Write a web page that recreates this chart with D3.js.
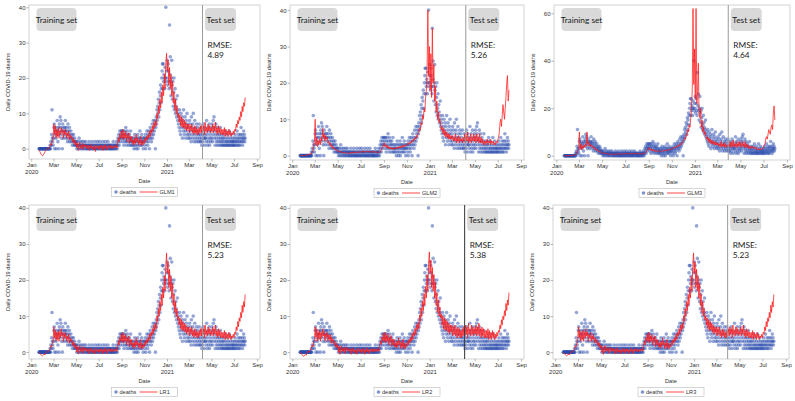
<!DOCTYPE html>
<html><head><meta charset="utf-8">
<script src="https://cdn.jsdelivr.net/npm/d3@7/dist/d3.min.js"></script>
<style>body{margin:0;background:#fff}svg text{font-family:"Liberation Sans",Arial,sans-serif}</style>
</head><body><svg id="chart" width="795" height="401"></svg>
<script>
// ---------------- DATA ----------------
const modelNames = ["GLM1","GLM2","GLM3","LR1","LR2","LR3"];
const rmseValues = ["4.89","5.26","4.64","5.23","5.38","5.23"];
const splitDates = ["2021-04-07","2021-04-07","2021-03-30","2021-04-07","2021-04-04","2021-03-31"];
const xTickDates = ["2020-01-01","2020-03-01","2020-05-01","2020-07-01","2020-09-01","2020-11-01","2021-01-01","2021-03-01","2021-05-01","2021-07-01","2021-09-01"];
const xTickMonths = ["Jan","Mar","May","Jul","Sep","Nov","Jan","Mar","May","Jul","Sep"];
const xTickYears = ["2020","","","","","","2021","","","","",""];
const yTicks40 = [0,10,20,30,40];
const yTicks60 = [0,20,40,60];

// daily deaths, one array per month, Jan 22 2020 .. Jul 31 2021
const deaths = [
 [0,0,0,0,0,0,0,0,0,0],
 [0,0,0,0,0,0,0,0,0,0,0,0,0,0,0,0,0,0,0,0,1,0,2,1,4,11,3,2,1],
 [3,6,7,0,4,5,6,3,0,5,8,4,2,6,5,0,7,6,9,4,8,5,3,6,0,7,5,4,3,6,5],
 [6,8,5,4,3,6,5,2,7,4,3,5,6,2,4,3,5,2,3,4,1,3,2,4,2,1,3,2,1,2],
 [1,2,0,1,1,2,0,1,3,1,0,2,1,1,0,1,2,0,1,1,0,2,1,0,1,1,2,0,1,0,1],
 [0,1,1,0,2,1,0,0,1,1,0,1,2,0,1,0,0,1,1,0,2,0,1,0,1,0,1,2,0,1],
 [0,1,0,2,1,0,1,0,1,1,0,2,0,1,0,1,0,1,2,0,1,0,0,1,1,2,0,1,0,1,0],
 [1,0,1,0,1,0,0,1,2,0,1,0,1,0,1,1,0,2,1,0,1,3,2,4,1,3,5,2,4,3,5],
 [3,5,4,2,5,3,1,4,5,2,3,6,4,2,1,5,3,4,2,3,1,4,2,3,5,1,2,3,1,2],
 [2,3,1,0,2,4,3,1,2,0,3,1,2,4,0,3,2,1,3,5,2,1,3,2,4,1,2,3,0,2,3],
 [2,3,1,4,0,3,2,5,3,1,4,2,5,3,0,4,6,3,5,2,4,7,3,5,8,4,6,5,7,8],
 [0,6,9,7,11,8,12,10,14,9,13,16,11,15,18,13,17,20,22,24,17,24,19,21,20,17,23,20,40,19,22],
 [20,25,18,24,22,19,17,35,21,26,19,15,20,25,18,14,19,12,16,20,11,13,17,10,14,12,9,11,15,8,10],
 [7,9,6,11,5,8,4,10,7,6,9,3,8,5,11,6,4,7,9,5,3,8,6,10,4,7,5,3],
 [6,4,8,3,7,5,2,9,4,6,3,7,10,5,2,4,8,3,6,5,2,7,4,3,6,2,5,4,7,3,2],
 [4,2,6,3,1,5,4,2,7,3,6,1,4,3,3,5,2,8,4,1,6,3,2,5,7,1,4,3,2,6],
 [5,3,7,2,4,8,6,9,3,5,1,4,7,2,3,6,1,4,2,5,3,1,4,2,6,3,1,2,4,1,3],
 [2,1,3,4,1,2,5,1,3,2,1,4,2,1,3,1,2,5,1,2,3,1,4,2,1,2,3,1,2,1],
 [2,3,1,4,2,1,3,2,5,1,2,3,4,1,2,3,1,4,2,6,3,2,4,1,3,2,5,3,4,2,3]
];

// model fits, sampled every second day, one array per month
const glm1 = [
 [-0.3,-0.8,-1.2,-1.6,-1.9],
 [-2,-1.7,-1.3,-0.9,-0.5,-0.2,0,0.2,0,0.4,0.8,1.5,1,2.5,3],
 [7,4,6.5,3,5.5,3.5,6,3,5,4,6,4.5,5.5,3,5],
 [4,5.5,3,4.5,3.5,5,2.5,4,3,3.5,2,3,1.5,2.5,1],
 [2,0.3,1.5,-0.5,1,1.8,0,1,0.3,1.5,-0.3,1,0.5,1.2,0,1],
 [0.3,1,-0.5,0.8,0.2,1.2,-0.3,0.6,0,1,-0.8,0.5,0.2,1,0],
 [0.8,-0.3,1,0.2,0.9,-0.5,0.6,0,1.2,0.2,0.8,-0.4,0.5,1,0.2],
 [0.8,0.1,1,0.3,0.7,0,1,0.5,0.8,0.2,1.5,3,2,4,3,5],
 [3,5.5,2.5,4.5,3,5,2,4,3,4.5,1.5,3.5,2,3.5,1.5],
 [2.5,1,3,1.5,4,2,3,1,2.5,1.5,3.5,1,2.5,1,2],
 [1.5,3,2,3.5,2.5,4,3,5,3.5,5.5,4.5,6.5,5,7.5,6],
 [8,6.5,10,8.5,12,10,14,11.5,16,13,18,15,21,17,24,27],
 [22,25,18,23,17,21,15,19,13,16,11,14,10,12,9],
 [10,7.5,9.5,6.5,9,6,8.5,6,8,5.5,7.5,5,7,5.5],
 [7,4.5,6.5,5,7,4.5,6,4,6.5,4.5,6,4,5.5,4,6,4.5],
 [6.5,4.5,7,5,6.5,4,7.5,5,6,4.5,7,5,6.5,4.5,6],
 [5,7,4.5,6.5,5,7.5,4.5,6,4,6.5,4.5,6,4,5.5,4],
 [5.5,4,6,3.5,5.5,4,5,3.5,5.5,4,5,3.5,4.5,4,5],
 [4,5.5,5,7,6,8,7,9,8,10.5,9,12,10.5,13,12,14.5]
];
const glm2 = [
 [0,0,0,0,0],
 [0,0.1,0,0.2,0.1,0.3,0.2,0.4,0.3,0.6,0.5,1,1.5,2.5,4],
 [10,3,5,2.5,4,3,4.5,3,5,4,7.5,5,6,4,5.5],
 [4.5,5,3.5,4,3,3.5,2.5,3,2,2.5,1.8,2,1.5,1.7,1.3],
 [1.2,1.4,1,1.2,0.9,1.1,0.8,1,0.7,0.9,0.7,0.8,0.6,0.8,0.6,0.7],
 [0.7,0.9,0.6,1,0.7,1.1,0.8,1,0.7,0.9,0.8,1.1,0.8,1,0.9],
 [1,1.2,0.9,1.3,1,1.2,0.9,1.1,1,1.3,1,1.2,0.9,1.1,1],
 [1.1,0.9,1.2,1,1.1,0.8,1,0.9,1.1,0.8,1,1.2,1.5,2,2.5,3],
 [3.5,2.5,3,2.2,2.8,2,2.5,1.8,2.3,1.8,2.2,1.7,2.1,1.8,2.2],
 [1.8,2.2,1.9,2.4,2,2.5,2.1,2.6,2.2,2.8,2.3,2.9,2.5,3,2.7],
 [3,3.3,3,3.6,3.2,3.8,3.5,4.2,3.8,4.6,4.2,5,4.6,5.5,5.2],
 [6,6.5,7.5,7,9,8.5,11,10,13,12,16,18,24,40,22,30],
 [18,28,16,35,20,25,15,19,12,15,10,12,9,10,8],
 [7,8,6,7.5,5.5,7,5,6.5,5,6,4.5,6,4.5,5.5],
 [4.5,5.5,4,5,4,6,3.5,5,4,5.5,3.5,5,4,4.5,3.5,5],
 [4,6,3.5,5.5,4,6.5,3.5,5,4,6,3.5,5,4,6,4],
 [5.5,3.5,6,4,5,3.5,6,3.5,5,3.5,4.5,3,4,3,4],
 [3.5,4.5,3,4,3.5,4.5,3,4,3.5,4,3,3.5,3,4,3.5],
 [4,5,6,9,10,8,11,14,12,10,13,16,20,22,15,18]
];
const glm3 = [
 [0,0,0,0,0],
 [0,0,0.1,0,0.1,0.2,0.1,0.3,0.2,0.4,0.5,0.8,1.2,2,3],
 [10,3,5,2.5,4,3,4.5,3.5,5,4,10,5,6,4,5],
 [4,4.5,3.5,4,3,3.5,2.5,3,2.2,2.5,1.8,2,1.5,1.7,1.3],
 [1.2,1.3,1,1.1,0.9,1,0.8,0.9,0.7,0.8,0.6,0.8,0.6,0.7,0.5,0.7],
 [0.6,0.8,0.5,0.9,0.6,0.9,0.6,0.8,0.6,0.8,0.7,0.9,0.7,0.9,0.7],
 [0.8,1,0.7,1,0.8,1,0.7,0.9,0.8,1,0.8,1,0.8,0.9,0.8],
 [0.9,0.8,1,0.8,0.9,0.7,0.9,0.8,1,0.8,1,1.2,1.5,2,2.5,3],
 [3.5,2.5,3,2.2,2.8,2,2.5,1.8,2.3,1.8,2.2,1.7,2,1.7,2],
 [1.7,2,1.8,2.2,1.9,2.3,2,2.4,2.1,2.6,2.2,2.7,2.4,2.9,2.6],
 [2.9,3.2,3,3.5,3.2,3.8,3.5,4.2,3.8,4.6,4.2,5,4.6,5.5,5.2],
 [6,6.5,7.5,7,9,8.5,11,10,13,12,16,20,28,62,30,45],
 [24,62,22,27,39,18,16,20,12,15,10,12,9,10,8],
 [7,8,6,7.5,5.5,7,5,6.5,5,6,4.5,6,4.5,5.5],
 [4.5,5.5,4,5,4,6,3.5,5,4,5.5,3.5,5,4,4.5,3.5,5],
 [4,6,3.5,5.5,4,6.5,3.5,5,4,6,3.5,5,4,6,4],
 [5.5,3.5,6,4,5,3.5,6,3.5,5,3.5,4.5,3,4,3,4],
 [3.5,4,3,3.5,3,3.5,2.5,3,2.5,3,2.5,3,2.5,3,3],
 [3.5,4.5,5,7,8,7,9,11,10,9,12,13,11,18,21,15]
];
const lr1 = [
 [0,-0.2,-0.5,-0.8,-1],
 [-1,-0.8,-0.5,-0.8,-0.3,0,0.2,0,0.3,0.5,1,1.8,1.5,2.5,3],
 [7,4,6,3,5.5,3.5,6,3,5.5,4,6.5,4.5,5.5,3,5],
 [4,5.5,3,4.5,3.5,5,2.5,4,3,3.5,2,3,1.5,2.5,1],
 [2,0,1.5,-0.5,1,1.8,0,1,0.3,1.5,-0.3,1,0.5,1.2,0,1],
 [0.3,1,-0.5,0.8,0.2,1.2,-0.3,0.6,0,1,-0.5,0.5,0.2,1,0],
 [0.8,-0.3,1,0.2,0.9,-0.5,0.6,0,1.2,0.2,0.8,-0.4,0.5,1,0.2],
 [0.8,0.1,1,0.3,0.7,0,1,0.5,0.8,0.2,1.5,3,2,4,3,5],
 [3,5.5,2.5,4.5,3,5,2,4,3,4.5,1.5,3.5,2,3.5,1.5],
 [2.5,1,3,1.5,4,2,3,1,2.5,1.5,3.5,1,2.5,1,2],
 [1.5,3,2,3.5,2.5,4,3,5,3.5,5.5,4.5,6.5,5,7.5,6],
 [8,6.5,10,8.5,12,10,14,11.5,16,13,18,15,21,17,24,27.5],
 [22,25,18,23,17,21,15,19,13,16,11,14,10,12,9],
 [10,7.5,9.5,6.5,9,6,8.5,6,8,5.5,7.5,5,7,5.5],
 [7,4.5,6.5,5,7,4.5,6,4,6.5,4.5,6,4,5.5,4,6,4.5],
 [6.5,4.5,7,5,6.5,4,7.5,5,6,4.5,7,5,6.5,4.5,6],
 [5,7,4.5,6.5,5,7.5,4.5,6,4,6.5,4.5,6,4,5.5,4],
 [5.5,4,6,3.5,5.5,4,5,3.5,5.5,4,5,3.5,4.5,4,5],
 [4,5.5,5,7,6,8.5,7,9.5,8.5,11,9.5,13,11,14,12.5,16]
];
const lr2 = [
 [0,-0.3,-0.6,-0.9,-1.1],
 [-1.1,-0.8,-0.6,-0.9,-0.4,0,0.3,0,0.4,0.6,1.2,2,1.5,2.8,3.2],
 [7,4.2,6.5,3,5.5,3.5,6.2,3,5.5,4,6.5,4.5,5.8,3.2,5],
 [4.2,5.5,3,4.8,3.5,5,2.5,4.2,3,3.5,2.2,3,1.5,2.5,1.2],
 [2,0,1.6,-0.6,1,1.8,0,1.1,0.3,1.5,-0.4,1,0.5,1.3,0,1],
 [0.4,1,-0.6,0.8,0.2,1.2,-0.4,0.6,0,1.1,-0.6,0.5,0.2,1.1,0],
 [0.8,-0.4,1.1,0.2,0.9,-0.6,0.6,0,1.2,0.1,0.8,-0.5,0.5,1,0.1],
 [0.8,0,1,0.3,0.8,0,1,0.4,0.8,0.2,1.6,3,2.2,4.2,3,5.2],
 [3,5.5,2.6,4.6,3,5.2,2,4,3,4.6,1.6,3.6,2,3.6,1.5],
 [2.5,1,3.1,1.5,4,2,3.1,1,2.6,1.5,3.6,1,2.6,1,2.1],
 [1.6,3,2,3.6,2.5,4.1,3,5.1,3.5,5.6,4.5,6.6,5,7.6,6.2],
 [8.2,6.5,10.2,8.5,12.2,10,14.2,11.5,16.2,13,18.2,15,21.5,17,24.5,27.8],
 [22,25.5,18,23.5,17,21.5,15,19.5,13,16.5,11,14.5,10,12.5,9.5],
 [10.5,7.5,10,6.5,9.5,6,9,6,8.5,5.5,8,5,7.5,5.5],
 [7.5,4.5,7,5,7.5,4.5,6.5,4,7,4.5,6.5,4,6,4,6.5,4.5],
 [7,4.5,7.5,5,7,4,8,5,6.5,4.5,7.5,5,7,4.5,6.5],
 [5,7.5,4.5,7,5,8,4.5,6.5,4,7,4.5,6.5,4,6,4],
 [6,4,6.5,3.5,6,4,5.5,3.5,6,4,5.5,3.5,5,4,5.5],
 [4.5,6,5.5,7.5,6.5,9,7.5,10,9,11.5,10,13.5,11.5,14.5,13,16.5]
];
const lr3 = [
 [0,-0.2,-0.5,-0.8,-1],
 [-1,-0.8,-0.5,-0.8,-0.3,0,0.2,0,0.3,0.5,1,1.8,1.5,2.5,3],
 [7,4,6,3,5.5,3.5,6,3,5.5,4,6.5,4.5,5.5,3,5],
 [4,5.5,3,4.5,3.5,5,2.5,4,3,3.5,2,3,1.5,2.5,1],
 [2,0,1.5,-0.6,1,1.8,0,1,0.3,1.5,-0.3,1,0.5,1.2,0,1],
 [0.3,1,-0.5,0.8,0.2,1.2,-0.3,0.6,0,1,-0.5,0.5,0.2,1,0],
 [0.8,-0.3,1,0.2,0.9,-0.5,0.6,0,1.2,0.2,0.8,-0.4,0.5,1,0.2],
 [0.8,0.1,1,0.3,0.7,0,1,0.5,0.8,0.2,1.5,3,2,4,3,5],
 [3,5.5,2.5,4.5,3,5,2,4,3,4.5,1.5,3.5,2,3.5,1.5],
 [2.5,1,3,1.5,4,2,3,1,2.5,1.5,3.5,1,2.5,1,2],
 [1.5,3,2,3.5,2.5,4,3,5,3.5,5.5,4.5,6.5,5,7.5,6],
 [8,6.5,10,8.5,12,10,14,11.5,16,13,18,15,21,17,24,27.5],
 [22,25,18,23,17,21,15,19,13,16,11,14,10,12,9],
 [10,7.5,9.5,6.5,9,6,8.5,6,8,5.5,7.5,5,7,5.5],
 [7,4.5,6.5,5,7,4.5,6,4,6.5,4.5,6,4,5.5,4,6,4.5],
 [6.5,4.5,7,5,6.5,4,7.5,5,6,4.5,7,5,6.5,4.5,6],
 [5,7,4.5,6.5,5,7.5,4.5,6,4,6.5,4.5,6,4,5.5,4],
 [5.5,4,6,3.5,5.5,4,5,3.5,5.5,4,5,3.5,4.5,4,5],
 [4,5.5,5,7,6,8.5,7,9.5,8.5,11,9.5,13,11,14,12.5,16]
];
const modelFits = [glm1, glm2, glm3, lr1, lr2, lr3];

// ---------------- LAYOUT ----------------
const panels = [
 {l:29, r:260, t:5,   b:159, yd:[-2.9,40.65], yt:yTicks40},
 {l:290,r:524, t:5,   b:160, yd:[-1.2,41.4],  yt:yTicks40},
 {l:554,r:790, t:5,   b:160, yd:[-1.8,63.5],  yt:yTicks60},
 {l:29, r:260, t:205, b:359, yd:[-1.9,40.8],  yt:yTicks40},
 {l:290,r:524, t:205, b:359, yd:[-1.9,40.8],  yt:yTicks40},
 {l:553,r:789, t:205, b:359, yd:[-1.9,40.8],  yt:yTicks40}
];
const splitColors = ["#9a9a9a","#9a9a9a","#9a9a9a","#9a9a9a","#333","#9a9a9a"];

const parse = d3.timeParse("%Y-%m-%d");
const start = new Date(2020,0,22);
function monthFirst(m){ return m===0 ? start : new Date(2020, m, 1); }
const deathPts = [];
deaths.forEach((vals,m)=>{ const f=monthFirst(m); vals.forEach((v,i)=>deathPts.push({date:d3.timeDay.offset(f,i), v})); });
function fitSeries(chunks){
  const out=[];
  chunks.forEach((vals,m)=>{
    let f = monthFirst(m);
    if (d3.timeDay.count(start,f)%2) f = d3.timeDay.offset(f,1);
    vals.forEach((v,i)=>out.push({date:d3.timeDay.offset(f,2*i), v}));
  });
  return out;
}

const svg = d3.select("#chart");
const tickFont = 6, labFont = 5.6;

panels.forEach((p,k)=>{
  const x = d3.scaleTime().domain([new Date(2019,11,26), new Date(2021,8,9)]).range([p.l,p.r]);
  const y = d3.scaleLinear().domain(p.yd).range([p.b,p.t]);
  const g = svg.append("g");
  g.append("rect").attr("x",p.l).attr("y",p.t).attr("width",p.r-p.l).attr("height",p.b-p.t)
    .attr("fill","none").attr("stroke","#c8c8c8").attr("stroke-width",0.8);

  // x axis
  const xt = xTickDates.map(parse);
  const xa = g.append("g").attr("transform",`translate(0,${p.b})`)
    .call(d3.axisBottom(x).tickValues(xt).tickSize(2.5).tickFormat((d,i)=>xTickMonths[i]));
  xa.select(".domain").remove();
  xa.selectAll("line").attr("stroke","#888").attr("stroke-width",0.6);
  xa.selectAll("text").attr("font-size",tickFont).attr("fill","#333").attr("dy","0.75em").attr("y",3.5)
    .each(function(d,i){ if(xTickYears[i]) d3.select(this).append("tspan").attr("x",0).attr("dy","1.2em").text(xTickYears[i]); });
  xa.attr("font-family",null);

  // y axis
  const ya = g.append("g").attr("transform",`translate(${p.l},0)`)
    .call(d3.axisLeft(y).tickValues(p.yt).tickSize(2.5));
  ya.select(".domain").remove();
  ya.selectAll("line").attr("stroke","#888").attr("stroke-width",0.6);
  ya.selectAll("text").attr("font-size",tickFont).attr("fill","#333").attr("x",-3.5);
  ya.attr("font-family",null);

  // points
  g.append("g").selectAll("circle").data(deathPts).join("circle")
    .attr("cx",d=>x(d.date)).attr("cy",d=>y(d.v)).attr("r",1.8)
    .attr("fill","#2a4cae").attr("fill-opacity",0.5);

  // fitted line
  const line = d3.line().x(d=>x(d.date)).y(d=>y(d.v));
  g.append("path").datum(fitSeries(modelFits[k])).attr("d",line)
    .attr("fill","none").attr("stroke","#ff1a1a").attr("stroke-width",0.75).attr("stroke-linejoin","round");

  // split line
  const sx = x(parse(splitDates[k]));
  g.append("line").attr("x1",sx).attr("x2",sx).attr("y1",p.t).attr("y2",p.b)
    .attr("stroke",splitColors[k]).attr("stroke-width",1);

  // annotation boxes
  const bf = "Lato, 'Open Sans', sans-serif";
  g.append("rect").attr("x",p.l+7.5).attr("y",p.t+3).attr("width",40).attr("height",23).attr("rx",4)
    .attr("fill","#d9d9d9");
  g.append("text").attr("x",p.l+27.5).attr("y",p.t+17.5).attr("text-anchor","middle")
    .attr("font-size",8.3).attr("fill","#1a1a1a").style("font-family",bf).text("Training set");
  g.append("rect").attr("x",sx+2.5).attr("y",p.t+3).attr("width",31).attr("height",23).attr("rx",4)
    .attr("fill","#d9d9d9");
  g.append("text").attr("x",sx+18).attr("y",p.t+17.5).attr("text-anchor","middle")
    .attr("font-size",8.3).attr("fill","#1a1a1a").style("font-family",bf).text("Test set");
  g.append("text").attr("x",sx+5).attr("y",p.t+43).attr("font-size",8.3).attr("fill","#1a1a1a")
    .style("font-family",bf).text("RMSE:");
  g.append("text").attr("x",sx+5).attr("y",p.t+52.5).attr("font-size",8.3).attr("fill","#1a1a1a")
    .style("font-family",bf).text(rmseValues[k]);

  // axis titles
  const cy = (p.t+p.b)/2;
  g.append("text").attr("transform",`translate(${p.l-19},${cy}) rotate(-90)`).attr("text-anchor","middle")
    .attr("font-size",labFont).attr("fill","#333").text("Daily COVID-19 deaths");
  const cx = (p.l+p.r)/2;
  g.append("text").attr("x",cx).attr("y",p.b+24).attr("text-anchor","middle")
    .attr("font-size",labFont).attr("fill","#333").text("Date");

  // legend
  const lx = cx-33, ly = p.b+28.5;
  g.append("rect").attr("x",lx).attr("y",ly).attr("width",66).attr("height",9)
    .attr("fill","none").attr("stroke","#bbb").attr("stroke-width",0.6);
  g.append("circle").attr("cx",lx+4.5).attr("cy",ly+4.5).attr("r",1.8).attr("fill","#2a4cae").attr("fill-opacity",0.6);
  g.append("text").attr("x",lx+8).attr("y",ly+6.6).attr("font-size",labFont).attr("fill","#333").text("deaths");
  g.append("line").attr("x1",lx+28).attr("x2",lx+46).attr("y1",ly+4.5).attr("y2",ly+4.5)
    .attr("stroke","#ff1a1a").attr("stroke-width",0.8);
  g.append("text").attr("x",lx+48).attr("y",ly+6.6).attr("font-size",labFont).attr("fill","#333").text(modelNames[k]);
});
</script></body></html>
